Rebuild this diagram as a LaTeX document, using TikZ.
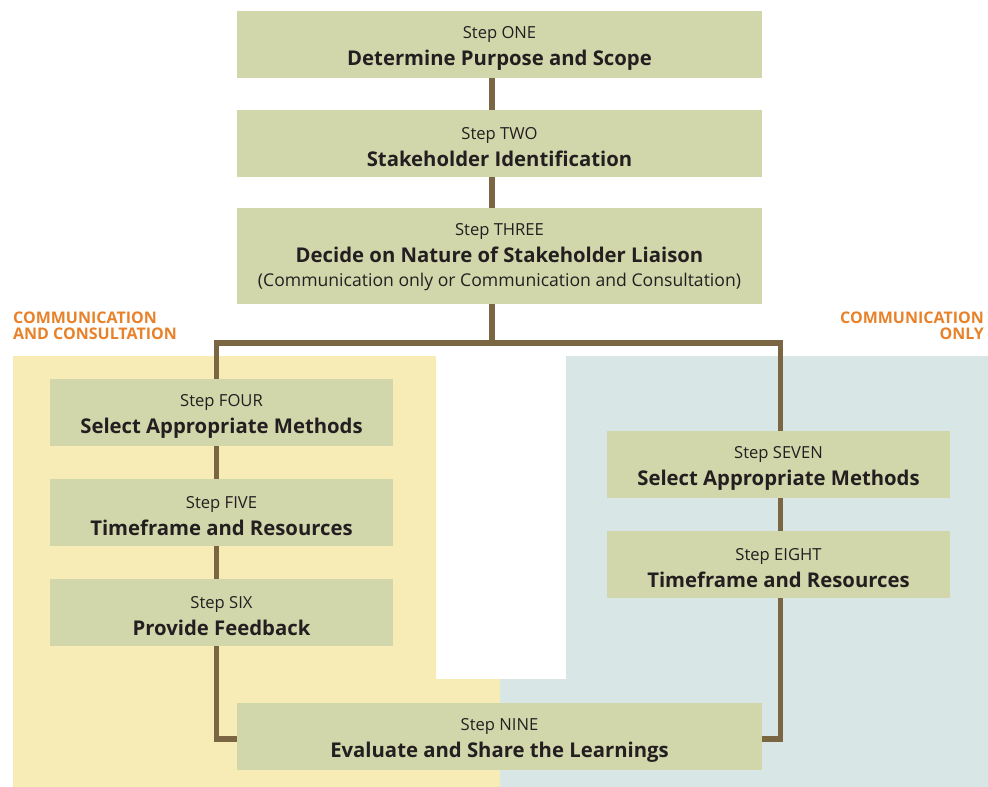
\documentclass[tikz,border=0pt]{standalone}
\usepackage{fontspec}
\setmainfont{Open Sans}

\definecolor{boxgreen}{HTML}{D1D7AB}
\definecolor{bandyellow}{HTML}{F7ECB6}
\definecolor{bandblue}{HTML}{D8E7E6}
\definecolor{linkbrown}{HTML}{7A6642}
\definecolor{labelorange}{HTML}{E8822A}
\definecolor{inkgrey}{HTML}{231F20}

% strut lowers the two lines a little inside the box
\newcommand{\steplabel}[2]{\rule{0pt}{20pt}#1\\{\bfseries\fontsize{20.3}{27}\selectfont #2}}

\begin{document}
\begin{tikzpicture}[x=1pt, y=-1pt,
  stepbox/.style={fill=boxgreen, text=inkgrey, align=center, inner sep=0pt,
    minimum width=525pt, minimum height=67pt, font=\fontsize{16.6}{27}\selectfont},
  sidebox/.style={stepbox, minimum width=343pt},
  link/.style={draw=linkbrown, line width=5.5pt},
  bandlabel/.style={text=labelorange, font=\bfseries\fontsize{16}{15.7}\selectfont, inner sep=0pt}]
\useasboundingbox (0,0) rectangle (988,787);

% coloured bands behind the two routes
\fill[bandyellow] (13,356) -- (436,356) -- (436,679) -- (500,679) -- (500,787) -- (13,787) -- cycle;
\fill[bandblue] (566,356) -- (988,356) -- (988,787) -- (500,787) -- (500,679) -- (566,679) -- cycle;

\node[bandlabel, align=left, anchor=north west] (cclabel) at (13,312) {COMMUNICATION\\AND CONSULTATION};
\node[bandlabel, align=right, anchor=north east] (colabel) at (984,312) {COMMUNICATION\\ONLY};

% common steps
\node[stepbox] (one) at (499.5,44.5) {\steplabel{Step ONE}{Determine Purpose and Scope}};
\node[stepbox] (two) at (499.5,143.5) {\steplabel{Step TWO}{Stakeholder Identification}};
\node[stepbox, minimum height=96pt] (three) at (499.5,256) {\rule{0pt}{14pt}Step THREE\\
  {\bfseries\fontsize{20.3}{27}\selectfont Decide on Nature of Stakeholder Liaison}\\[-3pt]
  {\fontsize{17.6}{24}\selectfont (Communication only or Communication and Consultation)}};

% communication and consultation
\node[sidebox] (four) at (221.5,412.5) {\steplabel{Step FOUR}{Select Appropriate Methods}};
\node[sidebox] (five) at (221.5,512.5) {\steplabel{Step FIVE}{Timeframe and Resources}};
\node[sidebox] (six) at (221.5,612.5) {\steplabel{Step SIX}{Provide Feedback}};

% communication only
\node[sidebox] (seven) at (778.5,464.5) {\steplabel{Step SEVEN}{Select Appropriate Methods}};
\node[sidebox] (eight) at (778.5,564.5) {\steplabel{Step EIGHT}{Timeframe and Resources}};

\node[stepbox] (nine) at (499.5,736.5) {\steplabel{Step NINE}{Evaluate and Share the Learnings}};

% connectors
\coordinate (trunk) at (492,343);
\coordinate (lbranch) at (216.5,343);
\coordinate (rbranch) at (780.5,343);
\draw[link] (one.south -| trunk) -- (two.north -| trunk);
\draw[link] (two.south -| trunk) -- (three.north -| trunk);
\draw[link] (three.south -| trunk) -- (trunk);
\draw[link] (four.north -| lbranch) -- (lbranch) -- (rbranch) -- (seven.north -| rbranch);
\draw[link] (four.south -| lbranch) -- (five.north -| lbranch);
\draw[link] (five.south -| lbranch) -- (six.north -| lbranch);
\draw[link] (six.south -| lbranch) |- ([yshift=-2.5pt]nine.west);
\draw[link] (seven.south -| rbranch) -- (eight.north -| rbranch);
\draw[link] (eight.south -| rbranch) |- ([yshift=-2.5pt]nine.east);
\end{tikzpicture}
\end{document}
